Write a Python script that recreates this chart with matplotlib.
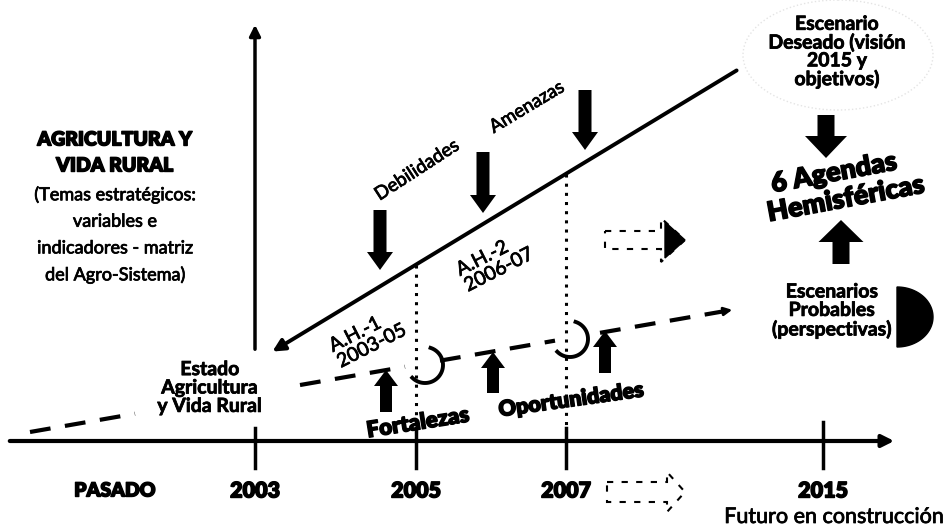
import matplotlib.pyplot as plt
import matplotlib.patheffects as pe
import numpy as np
from matplotlib.patches import FancyArrow, Polygon, Ellipse

# datos del esquema
years = ["2003", "2005", "2007", "2015"]
year_x = [255, 416, 566, 823]
left_title = ["AGRICULTURA Y", "VIDA RURAL"]
left_text = ["(Temas estratégicos:", "variables e", "indicadores - matriz", "del Agro-Sistema)"]
estado = "Estado\nAgricultura\ny Vida Rural"
deseado = "Escenario\nDeseado (visión\n2015 y\nobjetivos)"
probables = "Escenarios\nProbables\n(perspectivas)"
agendas = ["6 Agendas", "Hemisféricas"]
ah_labels = ["A.H.-1\n2003-05", "A.H.-2\n2006-07"]

plt.rcParams['font.family'] = ['Lato', 'DejaVu Sans']

# trazo para engrosar las letras
thin = [pe.withStroke(linewidth=0.55, foreground='black')]
thick = [pe.withStroke(linewidth=1.0, foreground='black')]

fig = plt.figure(figsize=(9.49, 5.30), dpi=100)
ax = fig.add_axes([0, 0, 1, 1])
ax.set_xlim(0, 949)
ax.set_ylim(530, 0)
ax.axis('off')

# ejes
ax.annotate("", xy=(897, 441), xytext=(7, 441),
            arrowprops=dict(arrowstyle='-|>', lw=3, color='black', mutation_scale=18))
ax.annotate("", xy=(255, 22), xytext=(255, 352),
            arrowprops=dict(arrowstyle='-|>', lw=2.5, color='black', mutation_scale=16))
for x in year_x:
    top = 422 if x == year_x[-1] else 428
    ax.plot([x, x], [top, 468], color='black', lw=2.5)

# años
for lbl, x in zip(years, year_x):
    ax.text(x, 491, lbl, ha='center', va='center', fontsize=15.5, fontweight='heavy', path_effects=thick)
ax.text(115, 491, "PASADO", ha='center', va='center', fontsize=14, fontweight='heavy', path_effects=thick)
ax.text(834, 517, "Futuro en construcción", ha='center', va='center', fontsize=15.5, path_effects=thin)

# linea del escenario deseado
ax.annotate("", xy=(270, 353), xytext=(739, 69),
            arrowprops=dict(arrowstyle='-|>', lw=2.8, color='black', mutation_scale=18))

# linea de escenarios probables (discontinua)
def yline(x):
    return 432 - 0.174 * (x - 30)

for x0, x1 in [(30, 135), (300, 405), (440, 555), (600, 722)]:
    xs = np.array([x0, x1])
    ax.plot(xs, yline(xs), color='black', lw=3, dashes=(5, 3.5))
ax.annotate("", xy=(735, yline(735)), xytext=(718, yline(718)),
            arrowprops=dict(arrowstyle='-|>', lw=2, color='black', mutation_scale=12))

# lineas punteadas verticales
for x in year_x[1:3]:
    y_top = 353 - 0.6055 * (x - 270)
    ax.plot([x, x], [y_top, 441], color='black', lw=2.2, dashes=(1, 2))

# lunas
t = np.radians(np.linspace(-135, 72, 60))
for cx, cy in [(425, 365), (570, 339)]:
    ax.plot(cx + 18 * np.cos(t), cy - 18 * np.sin(t), color='black', lw=2.8)

# flechas negras
def block(x, y0, y1, w=13, hw=26, hl=18):
    ax.add_patch(FancyArrow(x, y0, 0, y1 - y0, width=w, head_width=hw, head_length=hl,
                            length_includes_head=True, color='black', lw=0))

block(380, 210, 270)
block(483, 152, 213)
block(585, 90, 150)
block(826, 115, 158, w=17, hw=42, hl=22)
block(841, 264, 220, w=17, hw=45, hl=22)
block(386, 412, 370, w=12, hw=24, hl=16)
block(493, 393, 352, w=12, hw=24, hl=16)
block(605, 373, 331, w=12, hw=24, hl=16)

# flechas huecas
def hollow(x0, yc, x1, bh=20, hh=40, hlen=24, fill_head=False):
    pts = [(x0, yc - bh / 2), (x1 - hlen, yc - bh / 2), (x1 - hlen, yc - hh / 2), (x1, yc),
           (x1 - hlen, yc + hh / 2), (x1 - hlen, yc + bh / 2), (x0, yc + bh / 2)]
    ax.add_patch(Polygon(pts, closed=True, fill=False, edgecolor='black', lw=1.5, ls=(0, (3, 4))))
    if fill_head:
        ax.add_patch(Polygon([(x1 - hlen + 4, yc - hh / 2 + 4), (x1, yc), (x1 - hlen + 4, yc + hh / 2 - 4)],
                             closed=True, color='black'))

hollow(605, 240, 685, bh=18, hh=44, hlen=24, fill_head=True)
hollow(607, 492, 685, bh=20, hh=40, hlen=18)

# media luna negra
tt = np.radians(np.linspace(-90, 90, 50))
ax.add_patch(Polygon(np.column_stack([897 + 36 * np.cos(tt), 317 - 30 * np.sin(tt)]),
                     closed=True, color='black'))

# elipse tenue
ax.add_patch(Ellipse((838, 55), 190, 110, fill=False, edgecolor='#e4e4e4', lw=1, ls=':'))

# textos
for i, s in enumerate(left_title):
    ax.text(115, 140 + 26 * i, s, ha='center', va='center', fontsize=14, fontweight='heavy',
            path_effects=thick)
for i, s in enumerate(left_text):
    ax.text(115, 195 + 26.7 * i, s, ha='center', va='center', fontsize=13, path_effects=thin)

ax.text(210, 388, estado, ha='center', va='center', fontsize=14, fontweight='bold',
        linespacing=1.1, path_effects=thin)
ax.text(837, 52, deseado, ha='center', va='center', fontsize=14, fontweight='bold',
        linespacing=1.05, path_effects=thin)
ax.text(832, 311, probables, ha='center', va='center', fontsize=14, fontweight='bold',
        linespacing=1.1, path_effects=thin)
ax.text(834, 173, agendas[0], ha='center', va='center', fontsize=19.5, fontweight='heavy',
        rotation=10.5, rotation_mode='anchor', path_effects=thick)
ax.text(846, 199, agendas[1], ha='center', va='center', fontsize=19.5, fontweight='heavy',
        rotation=10.5, rotation_mode='anchor', path_effects=thick)

ax.text(417, 170, "Debilidades", ha='center', va='center', fontsize=13.5,
        rotation=33, rotation_mode='anchor', path_effects=thin)
ax.text(527, 107, "Amenazas", ha='center', va='center', fontsize=13.5,
        rotation=31, rotation_mode='anchor', path_effects=thin)
ax.text(368, 338, ah_labels[0], ha='center', va='center', fontsize=14, multialignment='left',
        rotation=27, rotation_mode='anchor', linespacing=1.05, path_effects=thin)
ax.text(495, 262, ah_labels[1], ha='center', va='center', fontsize=14, multialignment='left',
        rotation=27, rotation_mode='anchor', linespacing=1.05, path_effects=thin)
ax.text(418, 423, "Fortalezas", ha='center', va='center', fontsize=16, fontweight='heavy',
        rotation=9, rotation_mode='anchor', path_effects=thick)
ax.text(571, 400, "Oportunidades", ha='center', va='center', fontsize=15.5, fontweight='heavy',
        rotation=8, rotation_mode='anchor', path_effects=thick)

fig.savefig("out.png", dpi=100)
